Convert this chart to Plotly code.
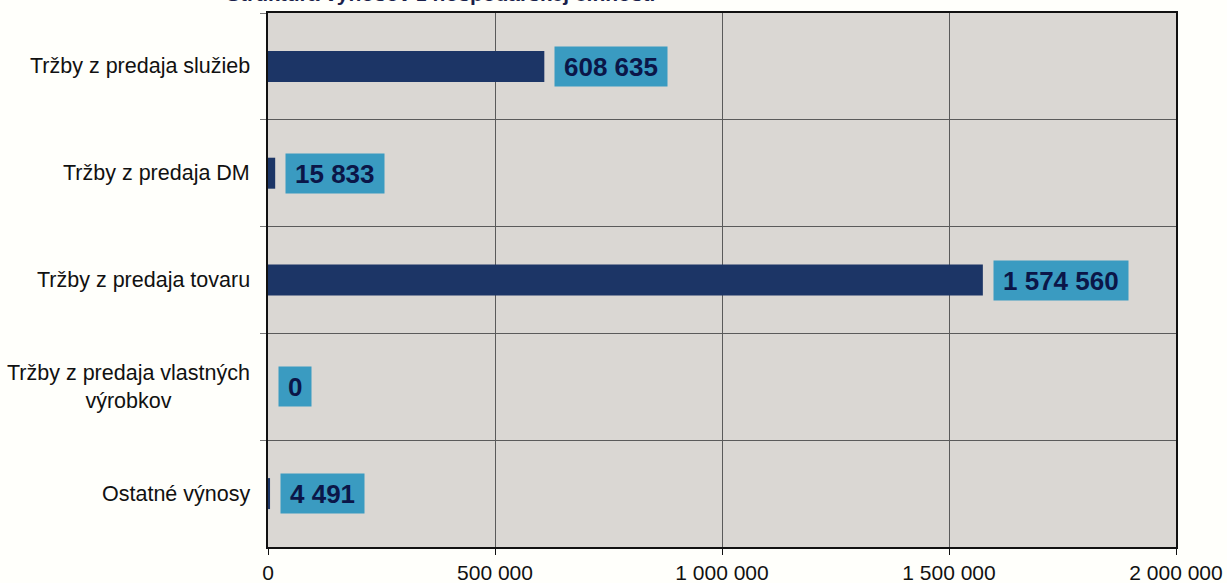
import plotly.graph_objects as go

categories = ["Tržby z predaja služieb", "Tržby z predaja DM", "Tržby z predaja tovaru",
              "Tržby z predaja vlastných<br>výrobkov", "Ostatné výnosy"]
values = [608635, 15833, 1574560, 0, 4491]
value_labels = ["608 635", "15 833", "1 574 560", "0", "4 491"]
x_tickvals = [0, 500000, 1000000, 1500000, 2000000]
x_ticktext = ["0", "500 000", "1 000 000", "1 500 000", "2 000 000"]
title_text = "Štruktúra výnosov z hospodárskej činnosti"

FONT = "Liberation Sans, Arial, sans-serif"
BAR = "#1c3566"
LBL_BG = "#3a9bc1"
LBL_FG = "#0b1648"
GRID = "#5a5a5a"

fig = go.Figure()
fig.add_trace(go.Bar(
    y=categories, x=values, orientation="h",
    marker=dict(color=BAR, line=dict(width=0)),
    width=0.29, showlegend=False, hoverinfo="x+y",
))

def text_w(s, size):
    w = 0
    for ch in s:
        w += 0.278 if ch == " " else 0.556
    return w * size

annotations = []
for cat, v, lab in zip(categories, values, value_labels):
    annotations.append(dict(
        x=v, y=cat, xref="x", yref="y", text="<b>%s</b>" % lab,
        showarrow=False, xanchor="left", yanchor="middle", xshift=10,
        font=dict(family=FONT, size=26, color=LBL_FG),
        bgcolor=LBL_BG, borderpad=2, width=text_w(lab, 26) + 14, height=35,
        align="center",
    ))
    annotations.append(dict(
        x=0, y=cat, xref="paper", yref="y", text=cat,
        showarrow=False, xanchor="right", yanchor="middle", xshift=-16,
        font=dict(family=FONT, size=21.5, color="#111111"), align="center",
    ))
annotations.append(dict(
    x=0.19, y=1, xref="paper", yref="paper", text="<b>%s</b>" % title_text,
    showarrow=False, xanchor="center", yanchor="bottom", yshift=6,
    font=dict(family=FONT, size=21, color="#1a1f4a"),
))

fig.update_layout(
    width=1227, height=583,
    margin=dict(l=268, r=51, t=13, b=36),
    paper_bgcolor="#fffffb",
    plot_bgcolor="#dad7d3",
    font=dict(family=FONT, size=21, color="#111111"),
    annotations=annotations,
    xaxis=dict(
        range=[0, 2000000], tickvals=x_tickvals, ticktext=x_ticktext,
        showgrid=True, gridcolor=GRID, gridwidth=1,
        showline=True, linecolor="#111111", linewidth=2, mirror=True,
        ticks="outside", ticklen=6, tickcolor="#111111",
        tickfont=dict(family=FONT, size=21, color="#111111"),
        zeroline=False, fixedrange=True, automargin=False,
    ),
    yaxis=dict(
        type="category", categoryorder="array", categoryarray=categories,
        autorange="reversed", tickson="boundaries",
        showticklabels=False, showgrid=True, gridcolor=GRID, gridwidth=1,
        showline=True, linecolor="#111111", linewidth=2, mirror=True,
        ticks="outside", ticklen=6, tickcolor="#777777",
        fixedrange=True, automargin=False,
    ),
)

fig.write_html("out.html", config={"displayModeBar": False},
               post_script="document.body.style.margin='0';")
